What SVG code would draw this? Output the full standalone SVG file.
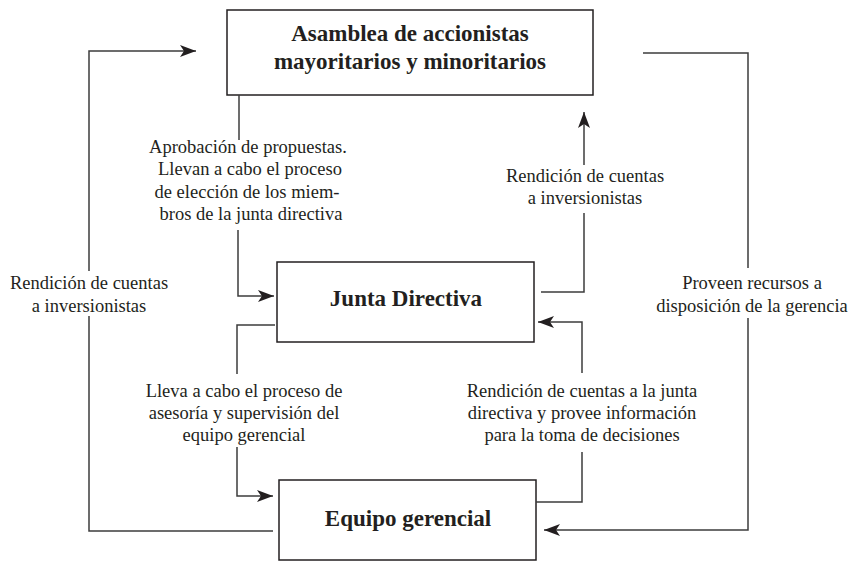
<svg xmlns="http://www.w3.org/2000/svg" width="851" height="562" viewBox="0 0 851 562">
<style>
.box{fill:#fff;stroke:#231f20;stroke-width:1.5}
.title{font-family:"Liberation Serif","Times New Roman",serif;font-weight:bold;font-size:23px;fill:#231f20;text-anchor:middle}
.lbl{font-family:"Liberation Serif","Times New Roman",serif;font-size:18.5px;fill:#231f20;text-anchor:middle}
.conn path{fill:none;stroke:#3c3c3c;stroke-width:1.5}
</style>
<defs>
<marker id="arr" markerUnits="userSpaceOnUse" markerWidth="17" markerHeight="13" refX="16" refY="6" orient="auto">
<path d="M0,0 L16,6 L0,12 L4,6 Z" fill="#231f20"/>
</marker>
</defs>
<rect width="851" height="562" fill="#fff"/>
<g id="asamblea">
<rect class="box" x="227" y="10" width="366" height="85"/>
<text class="title" x="410" y="41">Asamblea de accionistas</text>
<text class="title" x="410" y="69">mayoritarios y minoritarios</text>
</g>
<g id="junta">
<rect class="box" x="277" y="262" width="257" height="80"/>
<text class="title" x="406" y="306">Junta Directiva</text>
</g>
<g id="equipo">
<rect class="box" x="279" y="480" width="257" height="80"/>
<text class="title" x="408" y="526">Equipo gerencial</text>
</g>
<g class="conn" id="connectors">
<path d="M273,531 H89 V316"/>
<path d="M89,271 V51 H196" marker-end="url(#arr)"/>
<path d="M643,53 H748 V268"/>
<path d="M748,318 V530 H544" marker-end="url(#arr)"/>
<path d="M239,95 V140"/>
<path d="M238,230 V296 H274" marker-end="url(#arr)"/>
<path d="M541,292 H584 V213"/>
<path d="M584,165 V112" marker-end="url(#arr)"/>
<path d="M275,325 H237 V374"/>
<path d="M237,447 V496 H273" marker-end="url(#arr)"/>
<path d="M536,502 H582 V452"/>
<path d="M582,373 V322 H538" marker-end="url(#arr)"/>
</g>
<g id="labels">
<text class="lbl" x="89" y="289">Rendición de cuentas</text>
<text class="lbl" x="89" y="311.5">a inversionistas</text>
<text class="lbl" x="752" y="289">Proveen recursos a</text>
<text class="lbl" x="752" y="311.5">disposición de la gerencia</text>
<text class="lbl" x="248" y="152.5">Aprobación de propuestas.</text>
<text class="lbl" x="250" y="175">Llevan a cabo el proceso</text>
<text class="lbl" x="247" y="197.5">de elección de los miem-</text>
<text class="lbl" x="251" y="220">bros de la junta directiva</text>
<text class="lbl" x="585" y="181.5">Rendición de cuentas</text>
<text class="lbl" x="585" y="204">a inversionistas</text>
<text class="lbl" x="244" y="397">Lleva a cabo el proceso de</text>
<text class="lbl" x="244" y="419">asesoría y supervisión del</text>
<text class="lbl" x="244" y="441">equipo gerencial</text>
<text class="lbl" x="582" y="397">Rendición de cuentas a la junta</text>
<text class="lbl" x="582" y="419">directiva y provee información</text>
<text class="lbl" x="582" y="441">para la toma de decisiones</text>
</g>
</svg>
